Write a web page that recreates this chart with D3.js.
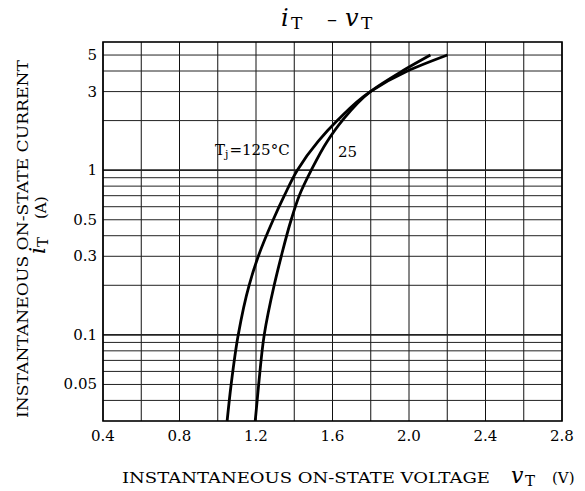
<!DOCTYPE html>
<html><head><meta charset="utf-8">
<script src="https://cdn.jsdelivr.net/npm/d3@7"></script>
<style>body{margin:0;background:#fff}svg{display:block}</style>
</head><body>
<svg id="c" width="585" height="491"></svg>
<script>
// ---- data ----
const currents = [0.03, 0.05, 0.1, 0.2, 0.3, 0.5, 0.7, 1, 1.5, 2, 3, 4, 5];
const v125 = [1.049, 1.070, 1.107, 1.164, 1.212, 1.290, 1.348, 1.416, 1.526, 1.625, 1.798, 1.992, 2.201];
const v25  = [1.196, 1.214, 1.243, 1.295, 1.332, 1.384, 1.426, 1.489, 1.573, 1.651, 1.798, 1.965, 2.112];
const xTicks = [0.4, 0.8, 1.2, 1.6, 2.0, 2.4, 2.8];
const xGrid = [0.4,0.6,0.8,1.0,1.2,1.4,1.6,1.8,2.0,2.2,2.4,2.6,2.8];
const yTicks = [0.05, 0.1, 0.3, 0.5, 1, 3, 5];
const yGrid = [0.04,0.05,0.06,0.07,0.08,0.09,0.1,0.2,0.3,0.4,0.5,0.6,0.7,0.8,0.9,1,2,3,4,5];

const F = "'DejaVu Serif', serif";
const L = 103, R = 562, T = 42, B = 421;
const svg = d3.select("#c");
const x = d3.scaleLinear().domain([0.4, 2.8]).range([L, R]);
const y = d3.scaleLog().domain([0.03, 6]).range([B, T]);

// grid
const g = svg.append("g");
g.selectAll(".vg").data(xGrid).join("line")
  .attr("x1", d => x(d)).attr("x2", d => x(d)).attr("y1", T).attr("y2", B)
  .attr("stroke", "#111").attr("stroke-width", 1);
g.selectAll(".hg").data(yGrid).join("line")
  .attr("x1", L).attr("x2", R).attr("y1", d => y(d)).attr("y2", d => y(d))
  .attr("stroke", "#222").attr("stroke-width", d => (d === 1 || d === 0.1) ? 1.6 : 1);
svg.append("rect").attr("x", L).attr("y", T).attr("width", R - L).attr("height", B - T)
  .attr("fill", "none").attr("stroke", "#000").attr("stroke-width", 1.6);

// tick labels
svg.selectAll(".xt").data(xTicks).join("text")
  .attr("x", d => x(d)).attr("y", 441).attr("text-anchor", "middle")
  .attr("font-family", F).attr("font-size", 15).text(d => d.toFixed(1));
svg.selectAll(".yt").data(yTicks).join("text")
  .attr("x", 97).attr("y", d => y(d) + 5).attr("text-anchor", "end")
  .attr("font-family", F).attr("font-size", 15).text(d => String(d));

// curves (ordered from top to bottom so y is monotone increasing)
const line = d3.line().curve(d3.curveMonotoneY);
[v125, v25].forEach(vs => {
  const pts = currents.map((c, i) => [x(vs[i]), y(c)]).reverse();
  svg.append("path")
    .attr("d", line(pts))
    .attr("fill", "none").attr("stroke", "#000").attr("stroke-width", 2.8)
    .attr("stroke-linejoin", "round");
});

// curve labels
const t1 = svg.append("text").attr("x", 215).attr("y", 155).attr("font-family", F).attr("font-size", 15);
t1.append("tspan").text("T");
t1.append("tspan").attr("font-size", 11).attr("dy", 3).text("j");
t1.append("tspan").attr("dy", -3).attr("dx", 1).text("=125°C");
svg.append("text").attr("x", 338).attr("y", 157).attr("font-family", F).attr("font-size", 15).text("25");

// title
const tf = (txt, xx, yy, size, italic) => svg.append("text").attr("x", xx).attr("y", yy)
  .attr("font-family", F).attr("font-size", size).attr("font-style", italic ? "italic" : "normal").text(txt);
tf("i", 281, 26, 24, true);
tf("T", 291, 29, 17, false);
tf("–", 327, 26, 20, false);
tf("v", 345, 26, 24, true);
tf("T", 361, 29, 17, false);

// x axis title
svg.append("text").attr("x", 122).attr("y", 483).attr("font-family", F).attr("font-size", 15.5)
  .attr("textLength", 368).attr("lengthAdjust", "spacingAndGlyphs")
  .text("INSTANTANEOUS ON-STATE VOLTAGE");
tf("v", 511, 483, 22, true);
tf("T", 525, 486, 15, false);
tf("(V)", 552, 483, 15, false);

// y axis title
svg.append("text").attr("transform", "translate(28,418) rotate(-90)")
  .attr("font-family", F).attr("font-size", 15.5)
  .attr("textLength", 358).attr("lengthAdjust", "spacingAndGlyphs")
  .text("INSTANTANEOUS ON-STATE CURRENT");
const yl = svg.append("text").attr("transform", "translate(45,254) rotate(-90)")
  .attr("font-family", F).attr("font-size", 22);
yl.append("tspan").attr("font-style", "italic").text("i");
yl.append("tspan").attr("font-size", 15).attr("dy", 3).text("T");
svg.append("text").attr("transform", "translate(46,219) rotate(-90)")
  .attr("font-family", F).attr("font-size", 15).text("(A)");
</script>
</body></html>
